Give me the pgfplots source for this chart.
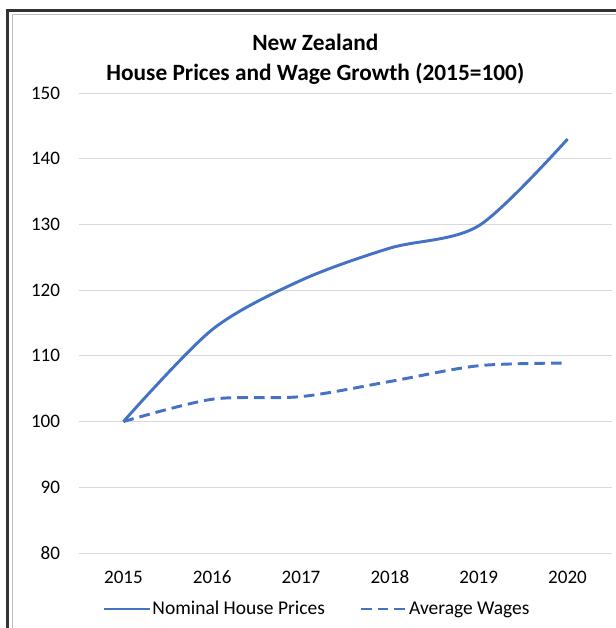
\documentclass[border=0pt]{standalone}
\usepackage{fontspec}
\setmainfont{Carlito}
\usepackage{pgfplots}
\pgfplotsset{compat=1.18}
\definecolor{xlblue}{HTML}{4472C4}
\definecolor{gridgray}{HTML}{D9D9D9}
\begin{document}
\begin{tikzpicture}
\useasboundingbox (0pt,0pt) rectangle (462pt,471pt);
\draw[line width=2.6pt, color=black!80] (5.6pt,0pt) -- (5.6pt,463.1pt) -- (462pt,463.1pt);
\draw[line width=0.75pt, color=black!25] (9pt,0pt) -- (9pt,459.8pt) -- (462pt,459.8pt);
\node[font=\fontsize{17.5}{22.5}\selectfont\bfseries, align=center] at (236.5pt,426.8pt) {New Zealand\\House Prices and Wage Growth (2015=100)};
\begin{axis}[
  at={(59.25pt,56.25pt)}, anchor=south west,
  scale only axis, width=399.75pt, height=345pt,
  xmin=2014.5, xmax=2020.5, ymin=80, ymax=150,
  xtick={2015,...,2020}, ytick={80,90,...,150},
  xticklabel style={/pgf/number format/1000 sep={}},
  /pgf/number format/assume math mode=true,
  tick label style={font=\fontsize{14.3}{16}\selectfont},
  xticklabel style={anchor=base, inner sep=0pt, yshift=-22.5pt},
  yticklabel style={anchor=east, inner sep=0pt, xshift=-14pt},
  axis line style={draw=none},
  major tick length=0pt,
  ymajorgrids, major grid style={gridgray, line width=0.75pt},
  legend style={at={(0.4475,-0.1217)}, anchor=center, draw=none, fill=none,
    font=\fontsize{14.6}{16}\selectfont, legend columns=2,
    /tikz/every even column/.append style={column sep=24pt},
    /tikz/every odd column/.append style={column sep=-1pt}},
  legend cell align=left,
  legend image code/.code={\draw[#1] (0pt,0pt) -- (34pt,0pt);},
]
\addplot[xlblue, line width=2.2pt, smooth, tension=0.5] coordinates {
  (2015,100) (2016,114) (2017,121.5) (2018,126.4) (2019,129.8) (2020,143)
};
\addlegendentry{Nominal House Prices}
\addplot[xlblue, line width=2.2pt, smooth, tension=0.5, dash pattern=on 8pt off 4.5pt] coordinates {
  (2015,100) (2016,103.4) (2017,103.8) (2018,106.1) (2019,108.5) (2020,108.9)
};
\addlegendentry{Average Wages}
\end{axis}
\end{tikzpicture}
\end{document}
